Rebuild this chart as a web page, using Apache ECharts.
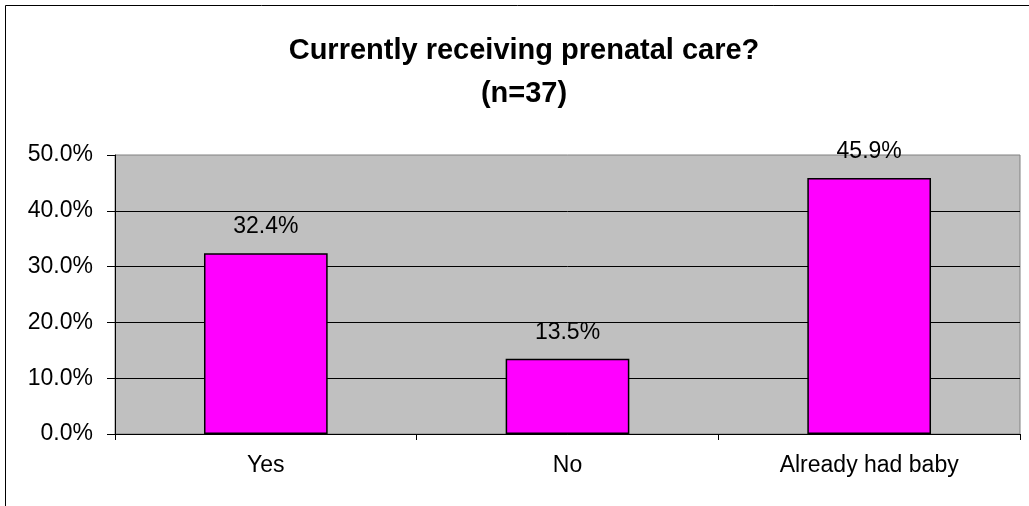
<!DOCTYPE html>
<html>
<head>
<meta charset="utf-8">
<script src="https://cdn.jsdelivr.net/npm/echarts@6/dist/echarts.min.js"></script>
<style>
  html, body { margin: 0; padding: 0; background: #fff; }
  #chart { width: 1029px; height: 506px; }
</style>
</head>
<body>
<div id="chart"></div>
<script>
// data
const categories = ['Yes', 'No', 'Already had baby'];
const percents = [32.4, 13.5, 45.9];
const yTicks = [0, 10, 20, 30, 40, 50];

const chart = echarts.init(document.getElementById('chart'));

const option = {
  backgroundColor: '#fff',
  animation: false,
  textStyle: { fontFamily: 'Liberation Sans, Arial, sans-serif' },
  graphic: [
    {
      type: 'rect',
      shape: { x: 5.5, y: 5.5, width: 1100, height: 600 },
      style: { fill: 'none', stroke: '#000', lineWidth: 1 },
      silent: true
    }
  ],
  title: {
    text: 'Currently receiving prenatal care?\n(n=37)',
    left: 519,
    textAlign: 'center',
    top: 24,
    textStyle: {
      fontSize: 29,
      fontWeight: 'bold',
      color: '#000',
      lineHeight: 43,
      fontFamily: 'Liberation Sans, Arial, sans-serif'
    }
  },
  grid: {
    left: 115,
    right: 9,
    top: 155,
    bottom: 72,
    show: true,
    backgroundColor: '#C0C0C0',
    borderColor: '#808080',
    borderWidth: 1
  },
  xAxis: {
    type: 'category',
    data: categories,
    axisLine: { lineStyle: { color: '#000', width: 1 } },
    axisTick: { show: true, length: 6, lineStyle: { color: '#000' } },
    axisLabel: { color: '#000', fontSize: 23, margin: 20 },
    splitLine: { show: false }
  },
  yAxis: {
    type: 'value',
    min: yTicks[0],
    max: yTicks[yTicks.length - 1],
    interval: 10,
    axisLine: { show: true, lineStyle: { color: '#000', width: 1 } },
    axisTick: { show: true, length: 8, lineStyle: { color: '#000' } },
    axisLabel: {
      color: '#000',
      fontSize: 23,
      margin: 22,
      formatter: v => v.toFixed(1) + '%'
    },
    splitLine: { show: true, showMaxLine: false, lineStyle: { color: '#000', width: 1 } }
  },
  series: [
    {
      type: 'bar',
      data: percents,
      barWidth: '41%',
      itemStyle: { color: '#FF00FF', borderColor: '#000', borderWidth: 1.5 },
      label: {
        show: true,
        position: 'top',
        distance: 15,
        color: '#000',
        fontSize: 23,
        formatter: p => p.value.toFixed(1) + '%'
      }
    }
  ]
};

chart.setOption(option);
</script>
</body>
</html>
